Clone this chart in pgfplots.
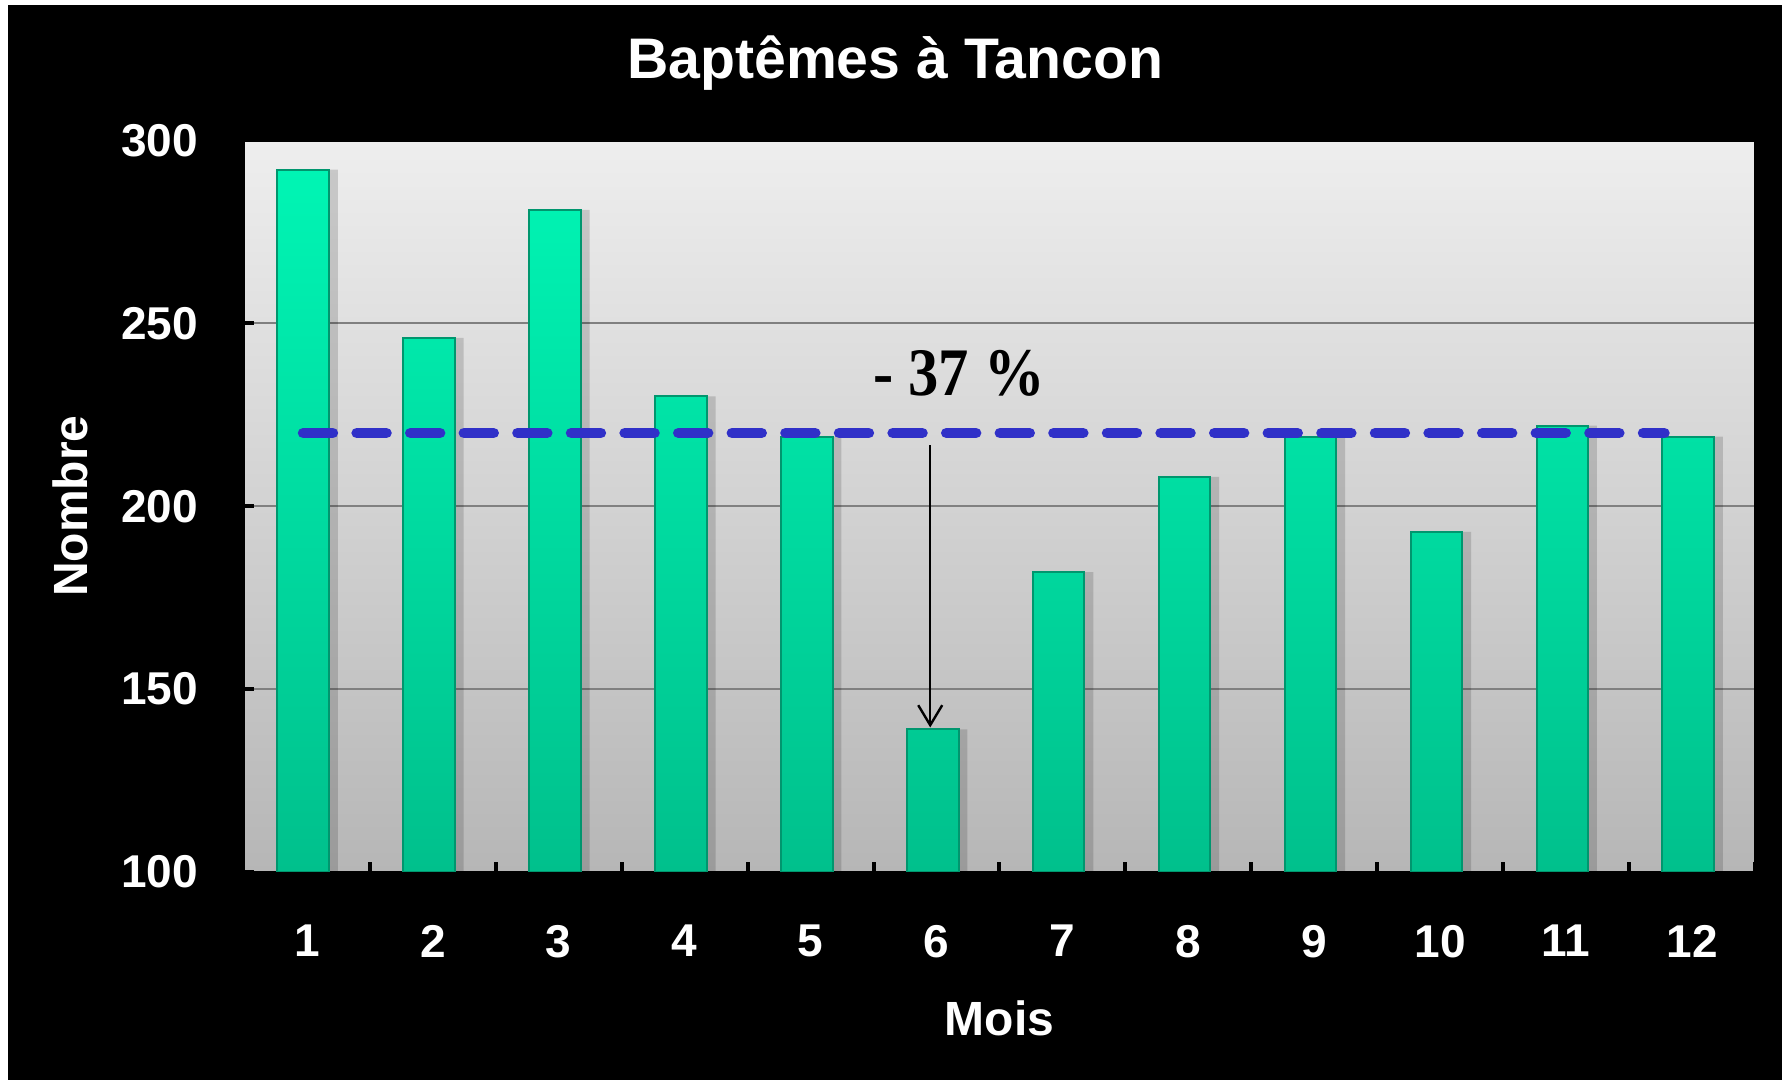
\documentclass[border=0pt]{standalone}
\usepackage{fontspec}
\setmainfont{Liberation Sans}
\newfontfamily\timesfont{Liberation Serif}
\usepackage{graphicx}
\usepackage{pgfplots}
\pgfplotsset{compat=1.18}
\usetikzlibrary{arrows.meta}
\definecolor{barTop}{RGB}{0,245,180}
\definecolor{barBot}{RGB}{0,192,140}
\definecolor{barEdge}{RGB}{0,150,110}
\definecolor{dashBlue}{RGB}{48,48,200}
\definecolor{gridGray}{RGB}{128,128,128}
\definecolor{bgTop}{RGB}{238,238,238}
\definecolor{bgBot}{RGB}{182,182,182}

\pgfplotstableread{
x y
1 292
2 246
3 281
4 230
5 219
6 139
7 182
8 208
9 219
10 193
11 222
12 219
}\bapt

\begin{document}
\begin{tikzpicture}
\fill[white] (0,0) rectangle (445.5pt,270pt);
\fill[black] (2pt,0) rectangle (445.5pt,268.75pt);
\begin{axis}[
  at={(61pt,52pt)}, anchor=south west,
  scale only axis, width=377.75pt, height=182.9pt,
  xmin=0.5, xmax=12.5, ymin=100, ymax=300,
  xtick={1,...,12}, ytick={100,150,...,300},
  minor xtick={1.5,2.5,...,12.5},
  xtick pos=bottom, ytick pos=left,
  tick align=inside,
  major tick length=2.5pt, minor tick length=2.5pt,
  major x tick style={draw=none},
  minor x tick style={draw=black, line width=1pt},
  major y tick style={draw=black, line width=1pt},
  ymajorgrids, grid style={draw=gridGray, line width=0.6pt},
  axis background/.style={top color=bgTop, bottom color=bgBot},
  axis line style={draw=black, line width=0.6pt},
  ticklabel style={font=\fontsize{11.5}{12}\selectfont\bfseries, text=white},
  /pgf/number format/assume math mode=true,
  yticklabel style={xshift=-8pt},
  xticklabel style={yshift=-9.8pt},
  every axis title shift=0pt,
  title={Baptêmes à Tancon},
  title style={at={(axis description cs:0.431,1.106)}, anchor=center,
    font=\fontsize{14.3}{16}\selectfont\bfseries, text=white},
  xlabel={Mois}, ylabel={Nombre},
  xlabel style={at={(axis description cs:0.5,-0.1996)}, anchor=center,
    font=\fontsize{12}{14}\selectfont\bfseries, text=white},
  ylabel style={at={(axis description cs:-0.1149,0.5)}, anchor=center,
    font=\fontsize{12}{14}\selectfont\bfseries, text=white},
]
\addplot[ybar, bar width=0.41, bar shift=0.04, fill=black, fill opacity=0.15, draw=none]
  table[x=x, y=y] {\bapt};
\addplot[ybar, bar width=0.41, bar shift=-0.03, top color=barTop, bottom color=barBot,
  draw=barEdge, line width=0.5pt]
  table[x=x, y=y] {\bapt};
\addplot[color=dashBlue, line width=2.7pt, line cap=round, dash pattern=on 7.4pt off 6pt]
  coordinates {(0.97,220) (11.78,220)};
\addplot[black, line width=0.6pt, -{Straight Barb[length=5pt, width=6pt]}]
  coordinates {(5.95,216.6) (5.95,139.5)};
\node[font=\timesfont\bfseries\fontsize{17}{18}\selectfont, text=black]
  at (axis cs:6.18,236.3) {\scalebox{0.89}[1]{- 37 \%}};
\end{axis}
\end{tikzpicture}
\end{document}
